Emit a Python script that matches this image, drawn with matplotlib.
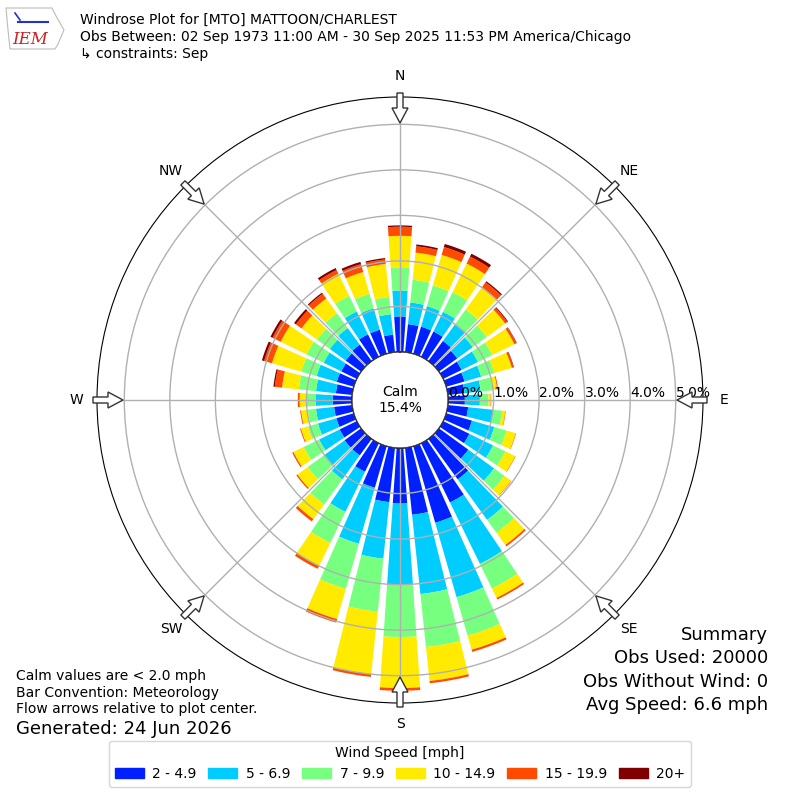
import numpy as np
import matplotlib
matplotlib.use("Agg")
import matplotlib.pyplot as plt
from matplotlib.patches import Circle, FancyArrow, Patch, Polygon

# wind directions (deg, meteorological) and percent of obs per speed bin
directions = np.arange(0, 360, 10)
speed_labels = ["2 - 4.9", "5 - 6.9", "7 - 9.9", "10 - 14.9", "15 - 19.9", "20+"]

pct_2_5 = [0.78, 0.62, 0.62, 0.62, 0.55, 0.50, 0.45, 0.42, 0.37, 0.37, 0.45, 0.59,
           0.64, 0.80, 1.10, 1.45, 1.75, 1.48, 1.22, 1.20, 0.95, 0.70, 0.45, 0.45,
           0.42, 0.40, 0.40, 0.42, 0.36, 0.39, 0.38, 0.42, 0.45, 0.55, 0.55, 0.39]
pct_5_7 = [0.57, 0.48, 0.47, 0.48, 0.45, 0.42, 0.40, 0.38, 0.36, 0.33, 0.55, 0.51,
           0.58, 0.70, 1.10, 1.50, 1.70, 1.75, 1.79, 1.25, 1.28, 0.98, 0.65, 0.55,
           0.50, 0.42, 0.40, 0.38, 0.44, 0.46, 0.43, 0.43, 0.45, 0.56, 0.49, 0.45]
pct_7_10 = [0.51, 0.50, 0.47, 0.48, 0.40, 0.38, 0.35, 0.30, 0.26, 0.19, 0.20, 0.28,
            0.30, 0.28, 0.35, 0.60, 0.88, 1.17, 1.14, 1.17, 1.03, 0.76, 0.68, 0.45,
            0.38, 0.23, 0.18, 0.20, 0.38, 0.35, 0.42, 0.35, 0.40, 0.38, 0.33, 0.38]
pct_10_15 = [0.69, 0.60, 0.70, 0.70, 0.60, 0.50, 0.54, 0.40, 0.10, 0.05, 0.07, 0.21,
             0.24, 0.18, 0.33, 0.23, 0.32, 0.75, 1.12, 1.38, 0.69, 0.56, 0.40, 0.28,
             0.25, 0.16, 0.15, 0.15, 0.37, 0.67, 0.63, 0.42, 0.40, 0.54, 0.50, 0.73]
pct_15_20 = [0.20, 0.14, 0.18, 0.17, 0.14, 0.06, 0.05, 0.04, 0.02, 0.01, 0.01, 0.01,
             0.01, 0.01, 0.04, 0.04, 0.05, 0.05, 0.06, 0.06, 0.08, 0.07, 0.06, 0.03,
             0.03, 0.02, 0.02, 0.04, 0.16, 0.18, 0.20, 0.15, 0.13, 0.09, 0.18, 0.10]
pct_20 = [0.03, 0.04, 0.07, 0.07, 0.03, 0.02, 0.01, 0.01, 0.00, 0.00, 0.00, 0.00,
          0.00, 0.00, 0.00, 0.00, 0.00, 0.00, 0.00, 0.00, 0.00, 0.00, 0.00, 0.00,
          0.00, 0.00, 0.00, 0.00, 0.03, 0.05, 0.05, 0.05, 0.03, 0.05, 0.05, 0.03]
speed_bins = [pct_2_5, pct_5_7, pct_7_10, pct_10_15, pct_15_20, pct_20]

calm_pct = 15.4
ring_ticks = [0, 1, 2, 3, 4, 5]
compass = ["N", "NE", "E", "SE", "S", "SW", "W", "NW"]

title_lines = [
    "Windrose Plot for [MTO] MATTOON/CHARLEST",
    "Obs Between: 02 Sep 1973 11:00 AM - 30 Sep 2025 11:53 PM America/Chicago",
    "\u21b3 constraints: Sep",
]
notes = ["Calm values are < 2.0 mph", "Bar Convention: Meteorology",
         "Flow arrows relative to plot center."]
summary = ["Summary", "Obs Used: 20000", "Obs Without Wind: 0", "Avg Speed: 6.6 mph"]

colors = plt.get_cmap("jet")(np.linspace(0.16, 1.0, 6))

fig = plt.figure(figsize=(8, 8), dpi=100)
ax = fig.add_axes([97 / 800, 97 / 800, 606 / 800, 606 / 800], projection="polar")
ax.set_theta_zero_location("N")
ax.set_theta_direction(-1)
ax.set_rorigin(-1.055)
ax.set_ylim(0, 5.6)

theta = np.deg2rad(directions)
bottom = np.zeros(len(directions))
for vals, c in zip(speed_bins, colors):
    vals = np.array(vals)
    ax.bar(theta, vals, width=np.deg2rad(8), bottom=bottom, color=c,
           linewidth=0, zorder=1)
    bottom += vals

ax.set_rticks(ring_ticks)
ax.set_yticklabels([])
ax.set_xticks(np.deg2rad(np.arange(0, 360, 45)))
ax.set_xticklabels([])
ax.set_axisbelow(False)
ax.grid(True, color="#b0b0b0", lw=1)
ax.spines["polar"].set_color("black")

# calm circle in the middle
ax.add_patch(Circle((0.5, 0.5), 48 / 606, transform=ax.transAxes,
                    fc="white", ec="black", lw=1, zorder=3))
ax.text(0.5, 0.5, f"Calm\n{calm_pct}%", transform=ax.transAxes,
        ha="center", va="center", fontsize=10, zorder=4)
for k in ring_ticks:
    ax.text(np.pi / 2, k, f"{k:.1f}%", ha="left", va="bottom",
            fontsize=10, zorder=5)

# overlay in pixel coords for arrows and compass labels
ov = fig.add_axes([0, 0, 1, 1], zorder=10)
ov.set_xlim(0, 800)
ov.set_ylim(800, 0)
ov.axis("off")
ov.patch.set_alpha(0)
for i, name in enumerate(compass):
    a = np.deg2rad(i * 45)
    s, c = np.sin(a), -np.cos(a)
    ov.add_patch(FancyArrow(400 + 307 * s, 400 + 307 * c, -30 * s, -30 * c,
                            width=6, head_width=16, head_length=15,
                            length_includes_head=True, fc="white",
                            ec="#333333", lw=1))
    ov.text(400 + 324 * s, 400 + 324 * c, name, ha="center", va="center",
            fontsize=10)

# logo stand-in
ov.add_patch(Polygon([[6, 8], [52, 8], [56, 16], [64, 30], [58, 44], [55, 49],
                      [10, 49], [8, 30]], closed=True, fc="white",
                     ec="#bbbbbb", lw=0.8))
ov.plot([18, 48], [22, 22], color="#2233cc", lw=1.5)
ov.plot([15, 20], [13, 20], color="#2233cc", lw=1.2)
ov.text(30, 39, "IEM", color="#cc2222", fontsize=12, style="italic",
        family="serif", ha="center", va="center")

for j, line in enumerate(title_lines):
    fig.text(80 / 800, 1 - (20 + 17 * j) / 800, line, fontsize=10, va="center")
for j, line in enumerate(notes):
    fig.text(16 / 800, 1 - (676 + 16.5 * j) / 800, line, fontsize=10, va="center")
fig.text(16 / 800, 1 - 729 / 800, "Generated: 24 Jun 2026", fontsize=13, va="center")
for j, line in enumerate(summary):
    fig.text(768 / 800, 1 - (635 + 23.3 * j) / 800, line, fontsize=13,
             ha="right", va="center")

handles = [Patch(color=c) for c in colors]
fig.legend(handles, speed_labels, ncol=6, loc="lower center",
           bbox_to_anchor=(0.5, 0.008), title="Wind Speed [mph]",
           fontsize=10, title_fontsize=10, columnspacing=0.85,
           handletextpad=0.6, handlelength=2.1)

fig.savefig("out.png", dpi=100)
